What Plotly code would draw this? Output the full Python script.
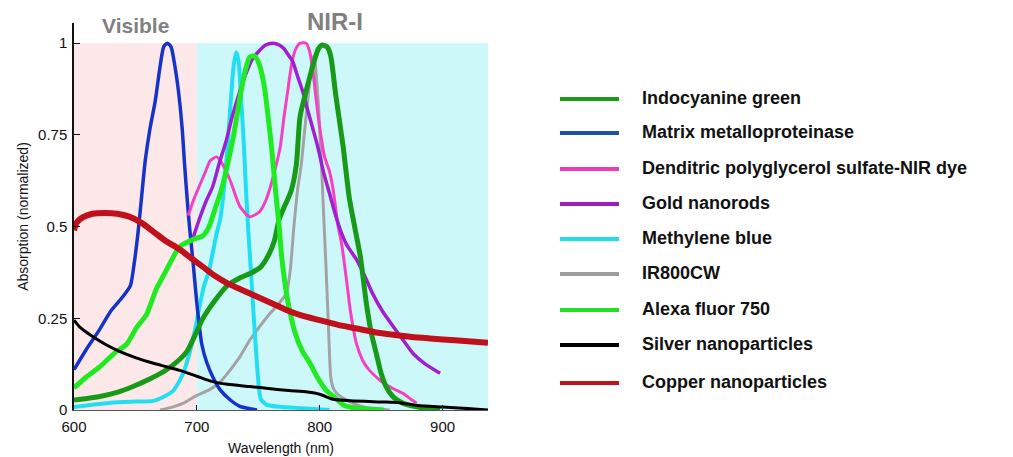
import plotly.graph_objects as go

# ---- spectra (wavelength in nm, normalized absorption) ----
icg_nm = [600, 620, 635, 648, 662, 675, 685, 692, 698, 705, 715, 725, 735, 745, 752, 758, 763, 767,
          772, 777, 781, 784, 789, 795, 799, 802, 806, 809, 813, 819, 824, 829, 833, 838, 842, 846,
          850, 854, 860, 868, 880, 898]
icg_abs = [0.027, 0.036, 0.048, 0.064, 0.085, 0.109, 0.135, 0.16, 0.20, 0.25, 0.30, 0.34, 0.36, 0.375,
           0.39, 0.42, 0.46, 0.52, 0.56, 0.60, 0.67, 0.80, 0.87, 0.945, 0.985, 0.995, 0.99, 0.965, 0.86,
           0.72, 0.58, 0.49, 0.42, 0.29, 0.21, 0.155, 0.10, 0.064, 0.035, 0.018, 0.008, 0.0]

mmp_nm = [600, 610, 620, 630, 640, 646, 649, 652, 655, 658, 662, 666, 670, 673, 676, 679, 682, 685,
          688, 690, 692, 694, 697, 700, 704, 708, 713, 719, 727, 735, 749]
mmp_abs = [0.11, 0.165, 0.215, 0.27, 0.31, 0.34, 0.40, 0.48, 0.58, 0.68, 0.77, 0.84, 0.935, 0.99, 1.0,
           0.99, 0.94, 0.87, 0.77, 0.67, 0.58, 0.50, 0.40, 0.29, 0.18, 0.13, 0.09, 0.055, 0.028, 0.01, 0.0]

dpgs_nm = [693, 697, 702, 707, 711, 716, 720, 727, 735, 743, 751, 756, 760, 764, 768, 771, 774, 777,
           780, 784, 789, 792, 795, 797, 800, 804, 808, 811, 815, 818, 822, 825, 830, 835, 840, 846,
           852, 860, 868, 874, 879]
dpgs_abs = [0.53, 0.57, 0.61, 0.65, 0.68, 0.69, 0.675, 0.627, 0.555, 0.527, 0.54, 0.57, 0.61, 0.66,
            0.72, 0.80, 0.87, 0.94, 0.98, 1.0, 1.0, 0.975, 0.91, 0.85, 0.77, 0.69, 0.65, 0.60, 0.50,
            0.45, 0.35, 0.27, 0.18, 0.135, 0.11, 0.09, 0.073, 0.058, 0.045, 0.03, 0.018]

gold_nm = [697, 702, 707, 713, 718, 724, 728, 732, 736, 740, 745, 751, 756, 762, 767, 771, 775, 778,
           782, 786, 790, 795, 799, 803, 808, 813, 818, 822, 826, 830, 836, 843, 851, 860, 868, 876,
           886, 898]
gold_abs = [0.47, 0.52, 0.565, 0.61, 0.67, 0.735, 0.79, 0.836, 0.88, 0.917, 0.955, 0.98, 0.995, 1.0,
            0.995, 0.985, 0.965, 0.95, 0.91, 0.87, 0.82, 0.76, 0.71, 0.65, 0.59, 0.53, 0.48, 0.45,
            0.43, 0.41, 0.37, 0.318, 0.27, 0.227, 0.19, 0.154, 0.125, 0.10]

mb_nm = [600, 615, 630, 650, 665, 673, 680, 686, 690, 694, 698, 702, 706, 710, 713, 716, 719, 722,
         725, 728, 730, 732, 734, 736, 738, 740, 742, 744, 746, 748, 750, 752, 757, 770, 785, 808]
mb_abs = [0.008, 0.014, 0.02, 0.023, 0.025, 0.036, 0.05, 0.08, 0.11, 0.155, 0.21, 0.28, 0.34, 0.38,
          0.43, 0.48, 0.52, 0.60, 0.72, 0.86, 0.94, 0.975, 0.95, 0.85, 0.74, 0.60, 0.48, 0.38, 0.27,
          0.17, 0.08, 0.03, 0.014, 0.008, 0.005, 0.0]

ir800_nm = [670, 680, 690, 700, 710, 718, 725, 735, 743, 751, 760, 768, 773, 776, 779, 782, 785, 788,
            791, 794, 795.5, 797, 799, 801, 803, 805, 807, 809, 811, 814, 822, 835, 857]
ir800_abs = [0.0, 0.008, 0.02, 0.04, 0.055, 0.073, 0.10, 0.145, 0.19, 0.227, 0.265, 0.295, 0.32, 0.38,
             0.50, 0.60, 0.67, 0.77, 0.87, 0.955, 0.965, 0.92, 0.83, 0.70, 0.55, 0.40, 0.24, 0.09,
             0.06, 0.045, 0.027, 0.009, 0.0]

af750_nm = [600, 610, 621, 633, 643, 651, 659, 667, 675, 686, 697, 705, 710, 715, 720, 725, 730, 735,
            739, 743, 747, 751, 755, 758, 761, 764, 767, 769, 772, 775, 780, 786, 792, 798, 805, 812,
            820, 830, 852]
af750_abs = [0.06, 0.09, 0.118, 0.155, 0.18, 0.225, 0.26, 0.33, 0.38, 0.445, 0.465, 0.475, 0.50, 0.55,
             0.60, 0.67, 0.75, 0.85, 0.92, 0.962, 0.965, 0.94, 0.88, 0.80, 0.71, 0.60, 0.50, 0.42,
             0.34, 0.28, 0.21, 0.16, 0.128, 0.09, 0.055, 0.035, 0.012, 0.005, 0.0]

silver_nm = [600, 605, 613, 625, 637, 650, 664, 675, 686, 700, 712, 725, 743, 760, 775, 790, 800, 810,
             825, 850, 865, 880, 900, 920, 937]
silver_abs = [0.245, 0.225, 0.205, 0.18, 0.16, 0.143, 0.128, 0.118, 0.108, 0.092, 0.078, 0.07, 0.064,
              0.058, 0.053, 0.049, 0.043, 0.030, 0.025, 0.022, 0.02, 0.012, 0.008, 0.004, 0.0]

copper_nm = [600, 602, 607, 615, 625, 635, 645, 655, 665, 675, 685, 695, 705, 715, 725, 735, 745, 755,
             765, 775, 785, 800, 815, 830, 845, 860, 875, 890, 910, 937]
copper_abs = [0.49, 0.51, 0.525, 0.535, 0.537, 0.535, 0.527, 0.51, 0.485, 0.46, 0.44, 0.415, 0.39,
              0.365, 0.345, 0.33, 0.315, 0.30, 0.285, 0.27, 0.258, 0.245, 0.232, 0.222, 0.212, 0.205,
              0.199, 0.195, 0.19, 0.183]

series_names = ["Indocyanine green", "Matrix metalloproteinase",
                "Denditric polyglycerol sulfate-NIR dye", "Gold nanorods", "Methylene blue",
                "IR800CW", "Alexa fluor 750", "Silver nanoparticles", "Copper nanoparticles"]

x_ticks = [600, 700, 800, 900]
x_tick_text = ["600", "700", "800", "900"]
y_ticks = [0, 0.25, 0.5, 0.75, 1]
y_tick_text = ["0", "0.25", "0.5", "0.75", "1"]

# ---- styling ----
W, H = 1013, 457
ML, MR, MT, MB = 74, 525, 23, 47
X_RANGE = [600, 937]
Y_RANGE = [0, 1.055]

curve_style = {
    "Indocyanine green": ("#179a17", 5),
    "Matrix metalloproteinase": ("#1533c8", 3.5),
    "Denditric polyglycerol sulfate-NIR dye": ("#f440c4", 3),
    "Gold nanorods": ("#a01fd0", 3.5),
    "Methylene blue": ("#22def2", 4),
    "IR800CW": ("#a3a3a3", 3),
    "Alexa fluor 750": ("#22ea22", 5),
    "Silver nanoparticles": ("#000000", 3),
    "Copper nanoparticles": ("#c0101c", 6),
}
legend_color = {
    "Indocyanine green": "#1a9a1a",
    "Matrix metalloproteinase": "#1f4fa6",
    "Denditric polyglycerol sulfate-NIR dye": "#e83cb8",
    "Gold nanorods": "#9a1fbc",
    "Methylene blue": "#22ddee",
    "IR800CW": "#9c9c9c",
    "Alexa fluor 750": "#22e022",
    "Silver nanoparticles": "#000000",
    "Copper nanoparticles": "#c0101c",
}

data = {
    "Indocyanine green": (icg_nm, icg_abs),
    "Matrix metalloproteinase": (mmp_nm, mmp_abs),
    "Denditric polyglycerol sulfate-NIR dye": (dpgs_nm, dpgs_abs),
    "Gold nanorods": (gold_nm, gold_abs),
    "Methylene blue": (mb_nm, mb_abs),
    "IR800CW": (ir800_nm, ir800_abs),
    "Alexa fluor 750": (af750_nm, af750_abs),
    "Silver nanoparticles": (silver_nm, silver_abs),
    "Copper nanoparticles": (copper_nm, copper_abs),
}

draw_order = ["IR800CW", "Methylene blue", "Matrix metalloproteinase",
              "Denditric polyglycerol sulfate-NIR dye", "Gold nanorods", "Indocyanine green",
              "Alexa fluor 750", "Silver nanoparticles", "Copper nanoparticles"]

fig = go.Figure()
for name in draw_order:
    xs, ys = data[name]
    color, width = curve_style[name]
    fig.add_trace(go.Scatter(
        x=xs, y=ys, mode="lines", name=name, showlegend=False,
        line=dict(color=color, width=width, shape="spline", smoothing=0.6),
    ))

# spectral region backgrounds
fig.add_shape(type="rect", xref="x", yref="y", x0=600, x1=700, y0=0, y1=1,
              fillcolor="#fde8e9", line_width=0, layer="below")
fig.add_shape(type="rect", xref="x", yref="y", x0=700, x1=X_RANGE[1], y0=0, y1=1,
              fillcolor="#cdf8fa", line_width=0, layer="below")

PW = W - ML - MR
PH = H - MT - MB


def px_x(px):
    return (px - ML) / PW


def px_y(py):
    return (H - MB - py) / PH


# region labels
fig.add_annotation(text="<b>Visible</b>", x=px_x(135), y=px_y(25), xref="paper", yref="paper",
                   xanchor="center", yanchor="middle", showarrow=False,
                   font=dict(family="Liberation Sans, Arial", size=21, color="#808080"))
fig.add_annotation(text="<b>NIR-I</b>", x=px_x(335), y=px_y(22), xref="paper", yref="paper",
                   xanchor="center", yanchor="middle", showarrow=False,
                   font=dict(family="Liberation Sans, Arial", size=24, color="#808080"))

# legend drawn beside the plot
legend_rows = [99, 133, 169, 204, 239, 274, 310, 345, 383]
for name, ry in zip(series_names, legend_rows):
    fig.add_shape(type="line", xref="paper", yref="paper",
                  x0=px_x(560), x1=px_x(619), y0=px_y(ry), y1=px_y(ry),
                  line=dict(color=legend_color[name], width=4))
    fig.add_annotation(text="<b>" + name + "</b>", x=px_x(640), y=px_y(ry - 1),
                       xref="paper", yref="paper", xanchor="left", yanchor="middle",
                       showarrow=False,
                       font=dict(family="Liberation Sans, Arial", size=18, color="#111111"))

fig.update_layout(
    width=W, height=H, autosize=False,
    margin=dict(l=ML, r=MR, t=MT, b=MB, pad=0),
    paper_bgcolor="white", plot_bgcolor="white",
    font=dict(family="Liberation Sans, Arial", color="#111111"),
    showlegend=False,
)
fig.update_xaxes(
    range=X_RANGE, tickvals=x_ticks, ticktext=x_tick_text,
    ticks="inside", ticklen=5, tickcolor="#222222",
    showline=True, linecolor="#555555", linewidth=1,
    showgrid=False, zeroline=False, automargin=False,
    tickfont=dict(size=15, color="#111111"),
    ticklabelstandoff=3,
    title=dict(text="Wavelength (nm)", font=dict(size=14, color="#111111"), standoff=9),
)
fig.update_yaxes(
    range=Y_RANGE, tickvals=y_ticks, ticktext=y_tick_text,
    ticks="inside", ticklen=6, tickcolor="#111111",
    showline=True, linecolor="#111111", linewidth=1.5,
    showgrid=False, zeroline=False, automargin=False,
    tickfont=dict(size=15, color="#111111"),
    ticklabelstandoff=2,
    title=dict(text="Absorption (normalized)", font=dict(size=14, color="#111111"), standoff=6),
)

fig.write_html("out.html")
